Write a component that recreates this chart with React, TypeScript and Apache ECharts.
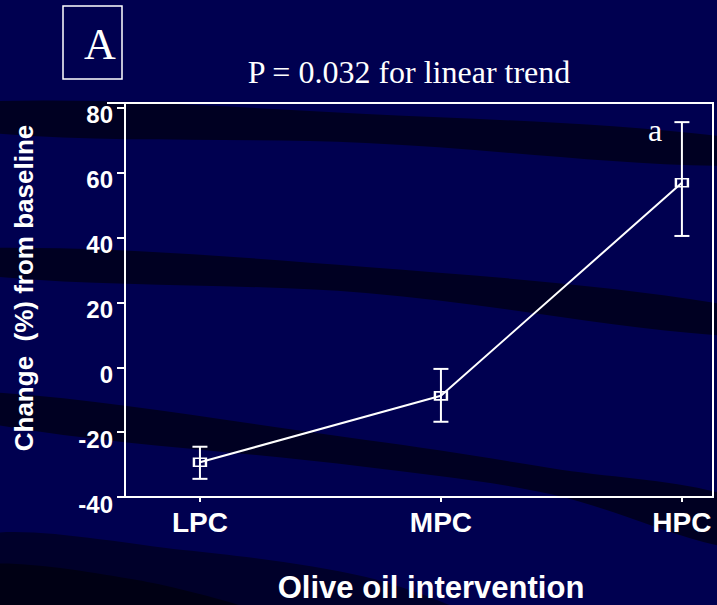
import React, { useEffect, useRef } from 'react';
import * as echarts from 'echarts';

const categories = ['LPC', 'MPC', 'HPC'];
const means = [-29.3, -8.8, 56.9];
const lowerBounds = [-34.4, -16.8, 40.5];
const upperBounds = [-24.5, -0.5, 75.6];
const yTickStep = 20;
const yMin = -40;
const yMax = 81.5;
const titleText = 'P = 0.032 for linear trend';
const panelLabel = 'A';
const significanceMark = 'a';
const xAxisTitle = 'Olive oil intervention';
const yAxisTitle = 'Change  (%) from baseline';

const SANS = '"Liberation Sans", Arial, sans-serif';
const SERIF = '"Liberation Serif", "Times New Roman", serif';
const BG = '#000050';
const BAND = '#000022';

function band(top: number[][], bottom: number[][], fill: string) {
  return {
    type: 'polygon',
    z: -10,
    silent: true,
    shape: { points: [...top, ...bottom], smooth: 0.35 },
    style: { fill },
  };
}

export default function App() {
  const ref = useRef<HTMLDivElement>(null);
  useEffect(() => {
    const chart = echarts.init(ref.current!, null, { renderer: 'svg' });
    const option: any = {
      animation: false,
      backgroundColor: BG,
      grid: {
        left: 125,
        top: 103,
        width: 588,
        height: 394,
        show: true,
        borderColor: '#fff',
        borderWidth: 2,
        backgroundColor: 'transparent',
      },
      xAxis: {
        type: 'value',
        min: -0.311,
        max: 2.129,
        splitLine: { show: false },
        axisLine: { show: true, onZero: false, lineStyle: { color: '#fff', width: 2 } },
        axisTick: {
          show: true,
          customValues: [0, 1, 2],
          length: 5,
          lineStyle: { color: '#fff', width: 2 },
        },
        axisLabel: {
          customValues: [0, 1, 2],
          formatter: (v: number) => categories[Math.round(v)] ?? '',
          color: '#fff',
          fontFamily: SANS,
          fontWeight: 'bold',
          fontSize: 28,
          margin: 11,
        },
      },
      yAxis: {
        type: 'value',
        min: yMin,
        max: yMax,
        interval: yTickStep,
        splitLine: { show: false },
        axisLine: { show: true, onZero: false, lineStyle: { color: '#fff', width: 2 } },
        axisTick: { show: true, length: 8, lineStyle: { color: '#fff', width: 2 } },
        axisLabel: {
          formatter: (v: number) => (Math.abs(v % yTickStep) < 1e-6 ? String(v) : ''),
          color: '#fff',
          fontFamily: SANS,
          fontWeight: 'bold',
          fontSize: 24,
          margin: 12,
          verticalAlign: 'top',
          lineHeight: 14,
        },
      },
      series: [
        {
          type: 'custom',
          z: 3,
          silent: true,
          data: lowerBounds.map((l, i) => [i, l, upperBounds[i]]),
          encode: { x: 0, y: [1, 2] },
          renderItem: (params: any, api: any) => {
            const x = api.value(0);
            const lo = api.coord([x, api.value(1)]);
            const hi = api.coord([x, api.value(2)]);
            const hw = 7.5;
            const st = { stroke: '#fff', lineWidth: 2 };
            return {
              type: 'group',
              children: [
                { type: 'line', shape: { x1: lo[0], y1: lo[1], x2: hi[0], y2: hi[1] }, style: st },
                { type: 'line', shape: { x1: lo[0] - hw, y1: lo[1], x2: lo[0] + hw, y2: lo[1] }, style: st },
                { type: 'line', shape: { x1: hi[0] - hw, y1: hi[1], x2: hi[0] + hw, y2: hi[1] }, style: st },
              ],
            };
          },
        },
        {
          type: 'line',
          z: 4,
          data: means.map((m, i) => [i, m]),
          symbol: 'rect',
          symbolSize: [12, 8],
          showAllSymbol: true,
          lineStyle: { color: '#fff', width: 2 },
          itemStyle: { color: 'rgba(0,0,0,0)', borderColor: '#fff', borderWidth: 2 },
        },
      ],
      graphic: [
        band([[-30, 102], [366, 114], [750, 140]], [[750, 166], [366, 143], [-30, 131]], BAND),
        band([[-30, 248], [366, 267], [750, 309]], [[750, 337], [366, 293], [-30, 274]], BAND),
        band(
          [[-30, 391], [366, 440], [550, 468], [750, 503]],
          [[750, 550], [550, 494], [366, 467], [-30, 420]],
          BAND
        ),
        {
          type: 'polygon',
          z: -10,
          silent: true,
          shape: { points: [[-30, 537], [183, 550], [366, 577], [460, 615], [-30, 615]], smooth: 0.3 },
          style: { fill: '#00002a' },
        },
        {
          type: 'polygon',
          z: -9,
          silent: true,
          shape: { points: [[-30, 566], [137, 580], [258, 615], [-30, 615]], smooth: 0.3 },
          style: { fill: '#000014' },
        },
        {
          type: 'rect',
          shape: { x: 63, y: 6, width: 59, height: 73 },
          style: { fill: 'none', stroke: '#fff', lineWidth: 1.5 },
        },
        {
          type: 'text',
          x: 100,
          y: 44,
          style: {
            text: panelLabel,
            fill: '#fff',
            font: `44px ${SERIF}`,
            textAlign: 'center',
            textVerticalAlign: 'middle',
          },
        },
        {
          type: 'text',
          x: 409,
          y: 72,
          style: {
            text: titleText,
            fill: '#fff',
            font: `32px ${SERIF}`,
            textAlign: 'center',
            textVerticalAlign: 'middle',
          },
        },
        {
          type: 'text',
          x: 655,
          y: 130,
          z: 5,
          style: {
            text: significanceMark,
            fill: '#fff',
            font: `32px ${SERIF}`,
            textAlign: 'center',
            textVerticalAlign: 'middle',
          },
        },
        {
          type: 'line',
          z: 5,
          shape: { x1: 107, y1: 103, x2: 125, y2: 103 },
          style: { stroke: '#fff', lineWidth: 2 },
        },
        {
          type: 'text',
          x: 431,
          y: 587,
          style: {
            text: xAxisTitle,
            fill: '#fff',
            font: `bold 31px ${SANS}`,
            textAlign: 'center',
            textVerticalAlign: 'middle',
          },
        },
        {
          type: 'text',
          x: 24,
          y: 288,
          rotation: Math.PI / 2,
          style: {
            text: yAxisTitle,
            fill: '#fff',
            font: `bold 26px ${SANS}`,
            textAlign: 'center',
            textVerticalAlign: 'middle',
          },
        },
      ],
    };
    chart.setOption(option);
    return () => chart.dispose();
  }, []);
  return (
    <div
      ref={ref}
      style={{ position: 'absolute', left: 0, top: 0, width: 717, height: 605 }}
    />
  );
}
